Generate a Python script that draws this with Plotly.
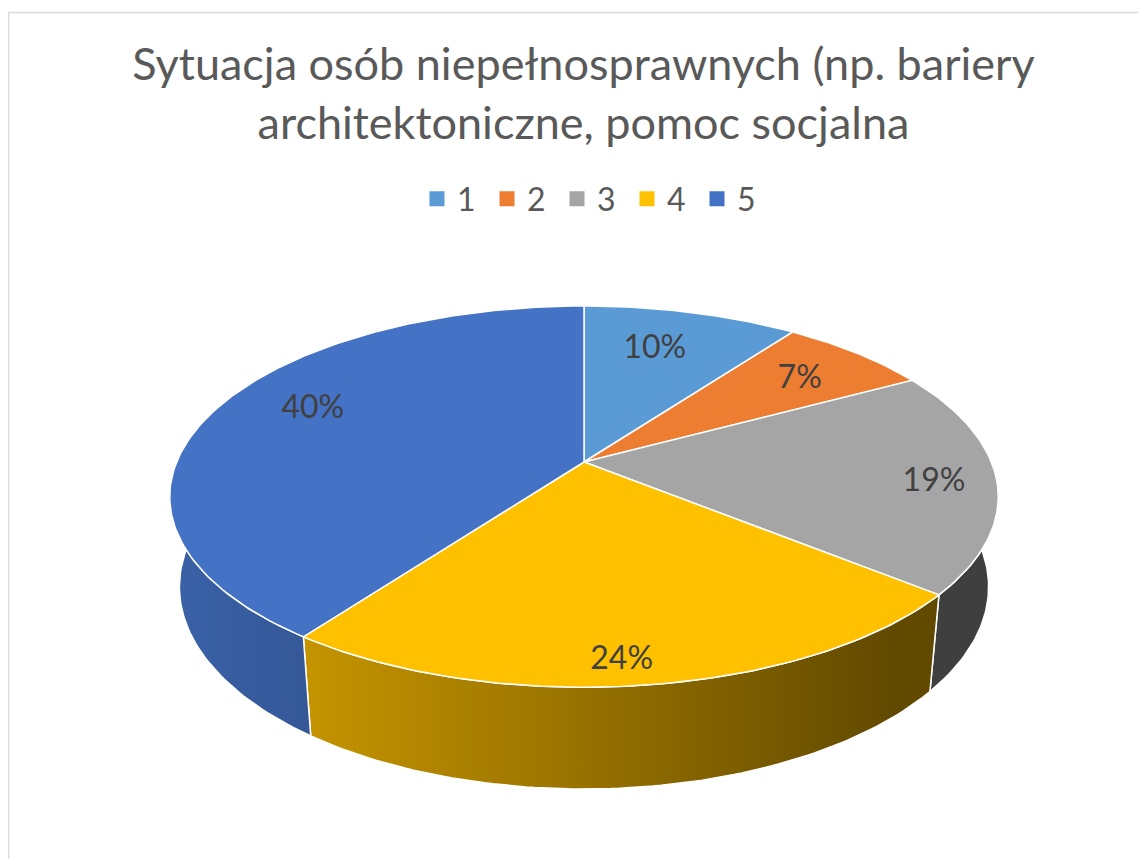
import math
import plotly.graph_objects as go

# ---- data ----
categories = ["1", "2", "3", "4", "5"]
values = [10, 7, 19, 24, 40]
label_texts = ["10%", "7%", "19%", "24%", "40%"]
title_text = "Sytuacja osób niepełnosprawnych (np. bariery<br>architektoniczne, pomoc socjalna"

# ---- style ----
colors = ["#5B9BD5", "#ED7D31", "#A5A5A5", "#FFC000", "#4472C4"]
label_radius = [0.74, 0.77, 0.85, 0.89, 0.775]
label_angle_shift = [-2.6, 0.1, 0.6, 2.2, 6.6]   # degrees, label placement tweak
LABEL_DY = 4                 # text baseline compensation (pixels)
OFF = 8                      # page body margin (pixels)
W, H = 1146 - OFF, 859 - OFF  # figure size so the page does not overflow
CX, CY = 584, 462            # pie centre (page pixels)
ALPHA = math.radians(26.9)   # tilt
DIST = 4.91                  # camera distance (pie radii)
FOCAL = 2000                 # focal length (pixels)
THICK = 0.25                 # pie thickness (pie radii)
FONT = "Lato"

sa, ca = math.sin(ALPHA), math.cos(ALPHA)


def proj(x, y, z):
    depth = DIST + y * ca - z * sa
    return CX + FOCAL * x / depth, CY - FOCAL * (y * sa + z * ca) / depth


def arc(t1, t2, z, r=1.0):
    n = max(4, int(abs(t2 - t1) / (2 * math.pi) * 360))
    pts = []
    for i in range(n + 1):
        t = t1 + (t2 - t1) * i / n
        pts.append(proj(r * math.sin(t), r * math.cos(t), z))
    return pts


def hex_to_rgb(h):
    h = h.lstrip("#")
    return tuple(int(h[i:i + 2], 16) for i in (0, 2, 4))


def shaded(h, f):
    r, g, b = hex_to_rgb(h)
    return f"rgb({round(r * f)},{round(g * f)},{round(b * f)})"


def px_to_paper_x(px):
    return (px - OFF) / W


def py_to_paper_y(py):
    return 1 - (py - OFF) / H


total = sum(values)
angles = [0.0]
for v in values:
    angles.append(angles[-1] + v / total * 2 * math.pi)

fig = go.Figure()

# side walls
x_left = proj(-1, 0, 0)[0]
x_right = proj(1, 0, 0)[0]
for i, c in enumerate(colors):
    t1, t2 = angles[i], angles[i + 1]
    pts = arc(t1, t2, 0) + arc(t2, t1, -THICK)
    xs = [p[0] for p in pts] + [pts[0][0]]
    ys = [p[1] for p in pts] + [pts[0][1]]
    fig.add_trace(go.Scatter(
        x=xs, y=ys, mode="lines", fill="toself",
        line=dict(color="white", width=1.5),
        fillcolor=shaded(c, 0.6),
        fillgradient=dict(
            type="horizontal", start=x_left, stop=x_right,
            colorscale=[[0, shaded(c, 0.85)], [0.45, shaded(c, 0.62)],
                        [0.88, shaded(c, 0.38)], [1, shaded(c, 0.38)]]),
        hoverinfo="skip", showlegend=False))

# top faces
for i, c in enumerate(colors):
    t1, t2 = angles[i], angles[i + 1]
    pts = [proj(0, 0, 0)] + arc(t1, t2, 0) + [proj(0, 0, 0)]
    fig.add_trace(go.Scatter(
        x=[p[0] for p in pts], y=[p[1] for p in pts], mode="lines",
        fill="toself", fillcolor=c, line=dict(color="white", width=1.5),
        hoverinfo="skip", showlegend=False))

# labels
lx, ly = [], []
for i in range(len(values)):
    tm = (angles[i] + angles[i + 1]) / 2 + math.radians(label_angle_shift[i])
    r = label_radius[i]
    px, py = proj(r * math.sin(tm), r * math.cos(tm), 0)
    lx.append(px)
    ly.append(py + LABEL_DY)
fig.add_trace(go.Scatter(
    x=lx, y=ly, mode="text", text=label_texts,
    textfont=dict(family=FONT, size=32, color="#404040"),
    hoverinfo="skip", showlegend=False))

# legend entries
for name, c in zip(categories, colors):
    fig.add_trace(go.Scatter(
        x=[None], y=[None], mode="markers", name=name,
        marker=dict(symbol="square", size=15, color=c)))

fig.add_shape(type="rect", x0=8.5, y0=12.5, x1=OFF + W + 20, y1=OFF + H + 20,
              line=dict(color="#D9D9D9", width=1.5), layer="below")

fig.update_layout(
    width=W, height=H,
    margin=dict(l=0, r=0, t=0, b=0),
    paper_bgcolor="white", plot_bgcolor="white",
    xaxis=dict(range=[OFF, OFF + W], visible=False, fixedrange=True),
    yaxis=dict(range=[OFF + H, OFF], visible=False, fixedrange=True),
    title=dict(text=title_text, x=px_to_paper_x(583.5), xanchor="center",
               y=py_to_paper_y(80), yanchor="top", yref="container",
               font=dict(family=FONT, size=45, color="#595959")),
    legend=dict(orientation="h", x=px_to_paper_x(417), xanchor="left",
                y=py_to_paper_y(199), yanchor="middle",
                font=dict(family=FONT, size=32, color="#595959"),
                entrywidth=25, entrywidthmode="pixels",
                bgcolor="rgba(0,0,0,0)", itemclick=False,
                itemdoubleclick=False),
    showlegend=True,
)

fig.write_html("out.html")
